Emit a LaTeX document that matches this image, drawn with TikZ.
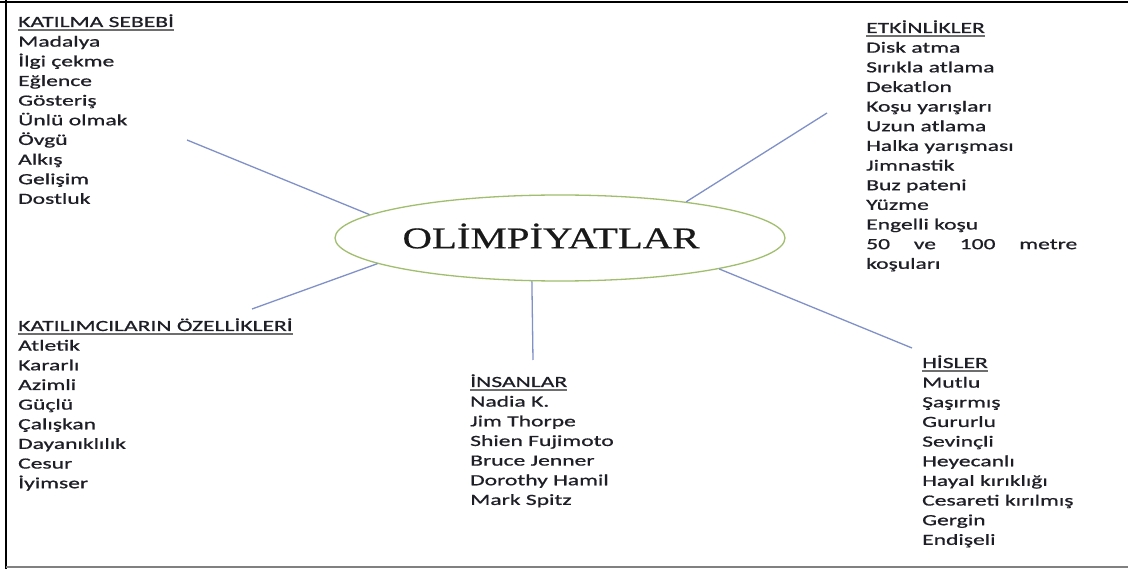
\documentclass[tikz,border=0pt]{standalone}
\usepackage{fontspec}
\usetikzlibrary{shapes.geometric}
\newfontfamily\listfont{Carlito}[FakeStretch=1.52,FakeBold=0.8]
\newfontfamily\titlefont{Liberation Serif}[FakeStretch=1.36,FakeBold=0.6]
\definecolor{txtc}{RGB}{30,30,38}
\definecolor{connc}{RGB}{128,145,200}
\definecolor{ellc}{RGB}{160,190,110}
\definecolor{ulc}{RGB}{110,110,110}
\newcommand\listblock[5]{%
  \node[listtxt] (#1-h) at (#2,#3) {#4};
  \draw[uline] ([yshift=-3pt]#1-h.base west) -- ([yshift=-3pt]#1-h.base east);
  \foreach \t [count=\i] in {#5} \node[listtxt] (#1-\i) at (#2,#3+\i*19.65) {\t};
}
\begin{document}
\begin{tikzpicture}[x=1pt,y=-1pt,
  listtxt/.style={font=\listfont\fontsize{15.5}{19.65}\selectfont, text=txtc, inner sep=0pt, anchor=base west},
  uline/.style={draw=ulc, line width=1.2pt},
  conn/.style={draw=connc, line width=1.3pt},
]
\useasboundingbox (0,0) rectangle (1128,569);
\fill[white] (0,0) rectangle (1128,569);
\draw[line width=2.5pt] (0,2) -- (1128,2);
\draw[line width=2.5pt] (6,0) -- (6,569);
\draw[gray, line width=1.5pt] (6,567) -- (1128,567);

\listblock{ks}{18}{27}{KATILMA SEBEBİ}{Madalya,İlgi çekme,Eğlence,Gösteriş,Ünlü olmak,Övgü,Alkış,Gelişim,Dostluk}
\listblock{et}{866}{33}{ETKİNLİKLER}{Disk atma,Sırıkla atlama,Dekatlon,Koşu yarışları,Uzun atlama,Halka yarışması,Jimnastik,Buz pateni,Yüzme,Engelli koşu,{\makebox[211pt][l]{50\hfill ve\hfill 100\hfill metre}},koşuları}
\listblock{ko}{18}{331}{KATILIMCILARIN ÖZELLİKLERİ}{Atletik,Kararlı,Azimli,Güçlü,Çalışkan,Dayanıklılık,Cesur,İyimser}
\listblock{in}{470}{387}{İNSANLAR}{Nadia K.,Jim Thorpe,Shien Fujimoto,Bruce Jenner,Dorothy Hamil,Mark Spitz}
\listblock{hi}{922}{368}{HİSLER}{Mutlu,Şaşırmış,Gururlu,Sevinçli,Heyecanlı,Hayal kırıklığı,Cesareti kırılmış,Gergin,Endişeli}

\node[draw=ellc, line width=1.3pt, ellipse, minimum width=450pt, minimum height=86pt, inner sep=0pt] (ell) at (560,238) {};
\node[font=\titlefont\fontsize{30}{30}\selectfont, text=black!90, inner sep=0pt] (title) at (551,236) {OLİMPİYATLAR};

\coordinate (e-tl) at (187,140);
\coordinate (e-tr) at (827,113);
\coordinate (e-bl) at (252,309);
\coordinate (e-b) at (533,360);
\coordinate (e-br) at (912,348);
\draw[conn] (ell.173.3) -- (e-tl);
\draw[conn] (ell.16.7) -- (e-tr);
\draw[conn] (ell.188.4) -- (e-bl);
\draw[conn] (ell.237.9) -- (e-b);
\draw[conn] (ell.349.4) -- (e-br);
\end{tikzpicture}
\end{document}
